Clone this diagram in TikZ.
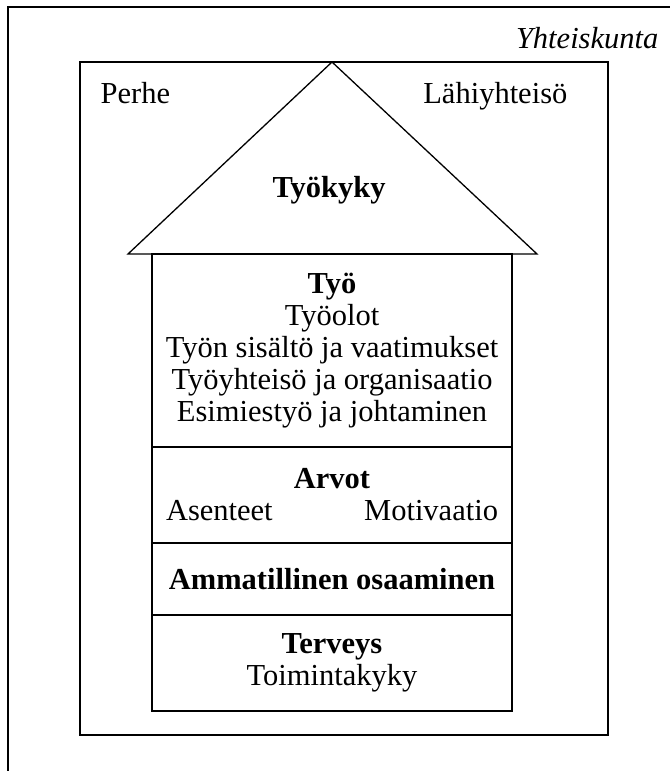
\documentclass[tikz,border=0pt]{standalone}
\usepackage{fontspec}
\setmainfont{Liberation Serif}
\usetikzlibrary{positioning}
\newcommand\housefont{\fontsize{30.5}{32}\selectfont}

\begin{document}
\begin{tikzpicture}[
    x=1pt, y=-1pt,
    line width=1.3pt,
    txt/.style={font=\housefont, inner sep=0pt},
    layer/.style={draw, txt, minimum width=360pt, align=center,
                  outer sep=0pt},
  ]
  \useasboundingbox (0,0) rectangle (670,771);
  % society frame, cut by the page edge
  \draw (8,771) -- (8,7) -- (670,7);
  \node[txt, font=\housefont\itshape, anchor=base east] (society) at (659,48) {Yhteiskunta};
  \node[draw, minimum width=528pt, minimum height=673pt, inner sep=0pt,
        outer sep=0pt] (env) at (344,398.5) {};
  \node[txt, anchor=base west] (family) at (100,103) {Perhe};
  \node[txt, anchor=base east] (local) at (568,103) {Lähiyhteisö};
  % roof
  \coordinate (apex) at (332,62);
  \coordinate (eaveL) at (128,254);
  \coordinate (eaveR) at (537,254);
  \draw (eaveL) -- (apex) -- (eaveR) -- cycle;
  \node[txt, font=\housefont\bfseries, anchor=base] (ability) at (329,197) {Työkyky};
  % floors
  \node[layer, minimum height=193pt] (work) at (332,350.5)
    {\textbf{Työ}\\Työolot\\Työn sisältö ja vaatimukset\\
     Työyhteisö ja organisaatio\\Esimiestyö ja johtaminen};
  \node[layer, minimum height=96pt, below=0pt of work] (values)
    {\textbf{Arvot}\\\makebox[332pt]{Asenteet\hfill Motivaatio}};
  \node[layer, minimum height=72pt, below=0pt of values] (skills)
    {\textbf{Ammatillinen osaaminen}};
  \node[layer, minimum height=96pt, below=0pt of skills] (health)
    {\textbf{Terveys}\\Toimintakyky};
\end{tikzpicture}
\end{document}
